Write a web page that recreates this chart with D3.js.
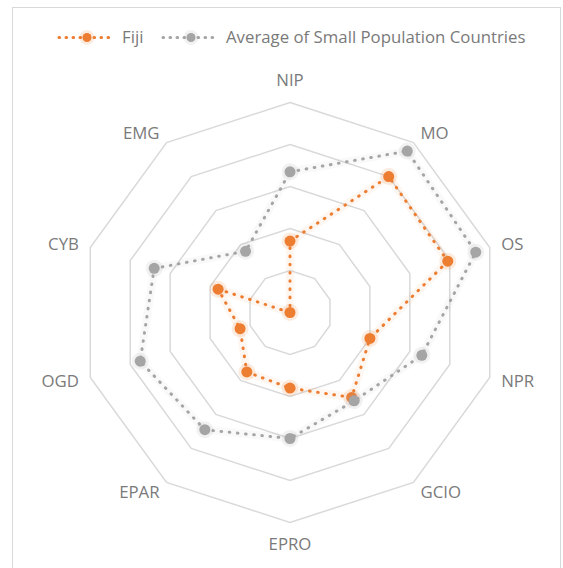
<!DOCTYPE html>
<html>
<head>
<meta charset="utf-8">
<script src="https://cdn.jsdelivr.net/npm/d3@7"></script>
<style>
  body { margin: 0; background: #fff; }
  text { font-family: "Open Sans", "Liberation Sans", sans-serif; fill: #7a7a7a; }
</style>
</head>
<body>
<svg id="chart"></svg>
<script>
// radar chart: Fiji vs average of small population countries
var width = 563
var height = 568
var axes = ["NIP", "MO", "OS", "NPR", "GCIO", "EPRO", "EPAR", "OGD", "CYB", "EMG"]
var fiji = [0.34, 0.80, 0.79, 0.40, 0.50, 0.36, 0.35, 0.25, 0.36, 0.00]
var average = [0.67, 0.95, 0.93, 0.66, 0.52, 0.60, 0.69, 0.75, 0.68, 0.36]
var levels = [0.2, 0.4, 0.6, 0.8, 1.0]
var seriesNames = ["Fiji", "Average of Small Population Countries"]
var seriesColors = ["#ED7D31", "#A5A5A5"]

var center_x = 290
var center_y = 312.5
var outerRadius = 210
var labelRadius = 222
var fontSize = "16.8px"

var svg = d3.select("#chart").attr("width", width).attr("height", height)

// chart frame
svg.append("rect")
    .attr("x", 12.5).attr("y", 7.5)
    .attr("width", 548).attr("height", 570)
    .attr("fill", "#fff")
    .attr("stroke", "#d9d9d9")
    .attr("stroke-width", 1)

var r = d3.scaleLinear().domain([0, 1]).range([0, outerRadius])
var angle = d3.scaleLinear().domain([0, axes.length]).range([0, 2 * Math.PI])

var g = svg.append("g").attr("transform", "translate(" + center_x + "," + center_y + ")")

// grid rings (decagons)
var ringLine = d3.lineRadial()
    .angle((d, i) => angle(i))
    .radius(d => r(d))
    .curve(d3.curveLinearClosed)

levels.forEach(lv =>
    g.append("path")
        .attr("d", ringLine(axes.map(() => lv)))
        .attr("fill", "none")
        .attr("stroke", "#d9d9d9")
        .attr("stroke-width", 1.5))

// axis labels
axes.forEach(function(name, i) {
    var a = angle(i)
    var s = Math.sin(a), c = Math.cos(a)
    var anchor = Math.abs(s) < 0.1 ? "middle" : (s > 0 ? "start" : "end")
    var y = -labelRadius * c + (Math.abs(s) < 0.1 ? -c * 10 : 0)
    g.append("text")
        .attr("x", labelRadius * s)
        .attr("y", y)
        .attr("dy", "0.35em")
        .attr("text-anchor", anchor)
        .attr("font-size", fontSize)
        .text(name)
})

// series
function drawSeries(values, color) {
    var line = d3.lineRadial()
        .angle((d, i) => angle(i))
        .radius(d => r(d))
        .curve(d3.curveLinearClosed)
    g.append("path")
        .attr("d", line(values))
        .attr("fill", "none")
        .attr("stroke", color)
        .attr("stroke-opacity", 0.07)
        .attr("stroke-width", 8)
    g.append("path")
        .attr("d", line(values))
        .attr("fill", "none")
        .attr("stroke", color)
        .attr("stroke-width", 3)
        .attr("stroke-linecap", "round")
        .attr("stroke-dasharray", "0.6 7.6")
    values.forEach(function(v, i) {
        var a = angle(i)
        var px = r(v) * Math.sin(a), py = -r(v) * Math.cos(a)
        g.append("circle").attr("cx", px).attr("cy", py).attr("r", 8.5)
            .attr("fill", color).attr("opacity", 0.15)
        g.append("circle").attr("cx", px).attr("cy", py).attr("r", 5.5)
            .attr("fill", color)
    })
}
drawSeries(fiji, seriesColors[0])
drawSeries(average, seriesColors[1])

// legend
var legendItems = [[59, 122], [163, 226]]
legendItems.forEach(function(pos, i) {
    var lg = svg.append("g")
    lg.append("line")
        .attr("x1", pos[0]).attr("x2", pos[0] + 54)
        .attr("y1", 37.5).attr("y2", 37.5)
        .attr("stroke", seriesColors[i])
        .attr("stroke-width", 3)
        .attr("stroke-linecap", "round")
        .attr("stroke-dasharray", "0.6 6.4")
    lg.append("circle").attr("cx", pos[0] + 28).attr("cy", 37.5).attr("r", 7.5)
        .attr("fill", seriesColors[i]).attr("opacity", 0.15)
    lg.append("circle").attr("cx", pos[0] + 28).attr("cy", 37.5).attr("r", 4.5)
        .attr("fill", seriesColors[i])
    lg.append("text")
        .attr("x", pos[1]).attr("y", 37.5)
        .attr("dy", "0.35em")
        .attr("font-size", fontSize)
        .text(seriesNames[i])
})
</script>
</body>
</html>
